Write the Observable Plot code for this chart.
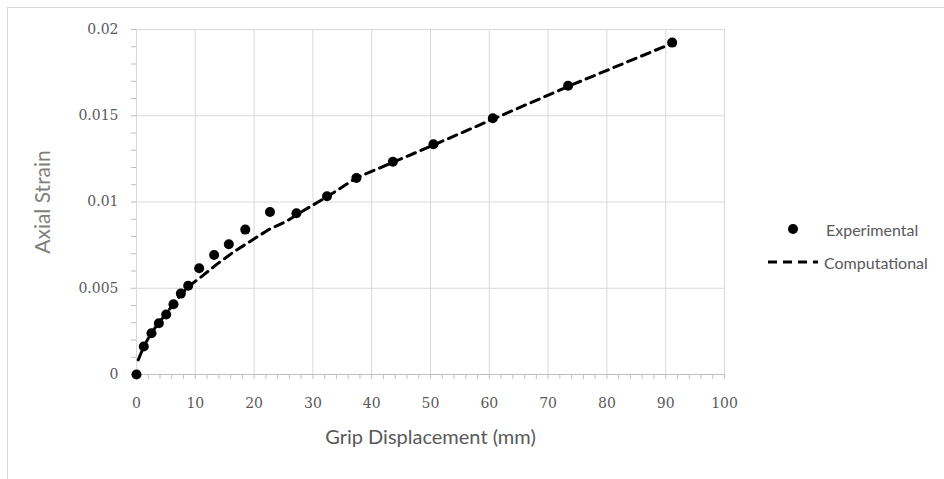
<!DOCTYPE html>
<html>
<head>
<meta charset="utf-8">
<script src="https://cdn.jsdelivr.net/npm/d3@7"></script>
<script src="https://cdn.jsdelivr.net/npm/@observablehq/plot@0.6"></script>
<style>
  html, body { margin: 0; padding: 0; background: #fff; }
  #wrap { position: relative; width: 944px; height: 479px; overflow: hidden; }
  #frame { position: absolute; left: 7px; top: 7px; width: 1000px; height: 600px;
           border-left: 1.5px solid #d9d9d9; border-top: 1.5px solid #d9d9d9; }
  #chart { position: absolute; left: 0; top: 0; }
  .legend { position: absolute; font-family: Lato, "Open Sans", sans-serif; font-size: 16px; color: #595959; }
  .legend .row { position: absolute; display: flex; align-items: center; white-space: nowrap; }
</style>
</head>
<body>
<div id="wrap">
  <div id="frame"></div>
  <div id="chart"></div>
  <div class="legend">
    <div class="row" style="left:768px; top:219px; height:20px;">
      <svg width="50" height="20"><circle cx="25" cy="10" r="5" fill="#000"></circle></svg>
      <span style="margin-left:8px;">Experimental</span>
    </div>
    <div class="row" style="left:768px; top:252px; height:20px;">
      <svg width="50" height="20"><line x1="0" y1="10" x2="50" y2="10" stroke="#000" stroke-width="3" stroke-dasharray="9,6"></line></svg>
      <span style="margin-left:6px;">Computational</span>
    </div>
  </div>
</div>
<script>
// Experimental data (Grip displacement in mm, axial strain)
const expDisp = [0, 1.24, 2.55, 3.8, 5.05, 6.29, 7.54, 8.79, 10.66, 13.2, 15.7, 18.5, 22.7, 27.2, 32.4, 37.4, 43.6, 50.5, 60.6, 73.4, 91.1];
const expStrain = [0, 0.00162, 0.00239, 0.00297, 0.00348, 0.00407, 0.00469, 0.00514, 0.00616, 0.00693, 0.00755, 0.0084, 0.00942, 0.00935, 0.01033, 0.01139, 0.01233, 0.01335, 0.01485, 0.01674, 0.01924];

// Computational curve
const compDisp = [0.3, 1.2, 2.5, 3.8, 5.0, 6.3, 7.5, 8.8, 10.6, 13.7, 16.5, 19.7, 22.5, 25.6, 27.9, 32.4, 37.4, 43.6, 50.5, 60.6, 73.4, 91.1];
const compStrain = [0.00085, 0.0016, 0.0024, 0.003, 0.0035, 0.0041, 0.0046, 0.0051, 0.00555, 0.0064, 0.0071, 0.0078, 0.0084, 0.0089, 0.0094, 0.0103, 0.0114, 0.0123, 0.0133, 0.0148, 0.0167, 0.0192];

// Axis ticks
const xMajorTicks = [0, 10, 20, 30, 40, 50, 60, 70, 80, 90, 100];
const xMinorTicks = d3.range(0, 101, 2);
const yMajorTicks = [0, 0.005, 0.01, 0.015, 0.02];
const yMinorTicks = d3.range(0, 21).map(i => i / 1000);

const xTitle = "Grip Displacement (mm)";
const yTitle = "Axial Strain";

const experimental = expDisp.map((x, i) => ({x, y: expStrain[i]}));
const computational = compDisp.map((x, i) => ({x, y: compStrain[i]}));

const tickFont = "'DejaVu Serif', serif";
const titleFont = "Lato, 'Open Sans', sans-serif";

const chart = Plot.plot({
  width: 944,
  height: 479,
  marginLeft: 136,
  marginRight: 220,
  marginTop: 29,
  marginBottom: 105,
  style: { background: "transparent", overflow: "visible" },
  x: { domain: [0, 100] },
  y: { domain: [0, 0.02] },
  marks: [
    Plot.gridX(xMajorTicks, { stroke: "#d9d9d9", strokeOpacity: 1 }),
    Plot.gridY(yMajorTicks, { stroke: "#d9d9d9", strokeOpacity: 1 }),
    Plot.ruleY([0], { stroke: "#bfbfbf" }),
    Plot.ruleX([0], { stroke: "#d9d9d9" }),
    Plot.axisX(xMinorTicks, { tickSize: 5, tickFormat: () => "", label: null, stroke: "#bfbfbf" }),
    Plot.axisY(yMinorTicks, { tickSize: 5, tickFormat: () => "", label: null, stroke: "#bfbfbf" }),
    Plot.axisX(xMajorTicks, { tickSize: 0, tickPadding: 24, label: null, fontFamily: tickFont, fontSize: 14, fill: "#595959", tickFormat: d3.format("d") }),
    Plot.axisY(yMajorTicks, { tickSize: 0, tickPadding: 18, label: null, fontFamily: tickFont, fontSize: 14, fill: "#595959", tickFormat: d => String(d) }),
    Plot.text([xTitle], { text: d => d, frameAnchor: "bottom", dy: 69, fontFamily: titleFont, fontSize: 20, fill: "#595959" }),
    Plot.text([yTitle], { text: d => d, frameAnchor: "left", textAnchor: "middle", dx: -93, rotate: -90, fontFamily: titleFont, fontSize: 21, fill: "#7f7f7f" }),
    Plot.line(computational, { x: "x", y: "y", stroke: "#000", strokeWidth: 3, strokeDasharray: "9,6" }),
    Plot.dot(experimental, { x: "x", y: "y", r: 5, fill: "#000" })
  ]
});
document.getElementById("chart").appendChild(chart);
</script>
</body>
</html>
